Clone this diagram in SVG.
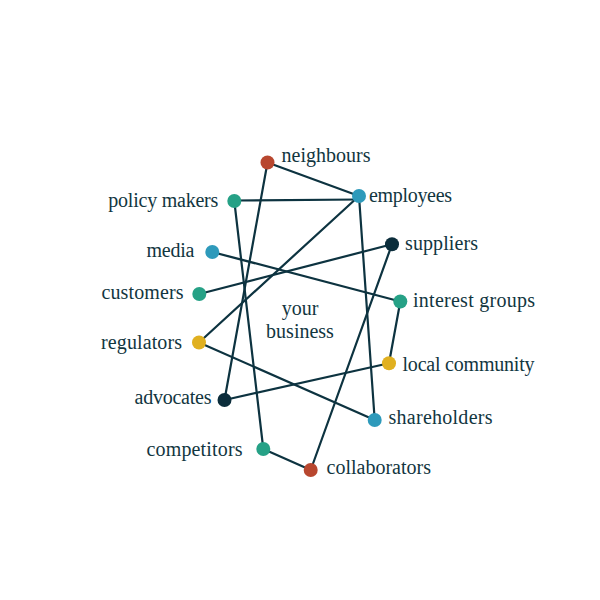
<svg xmlns="http://www.w3.org/2000/svg" width="600" height="600" viewBox="0 0 600 600">
<style>
.e{stroke:#0d3340;stroke-width:2.2;fill:none;stroke-linecap:round}
.n{stroke:none}
.red{fill:#b8472f}.teal{fill:#26a186}.blue{fill:#2e9abb}.yel{fill:#e0b020}.dark{fill:#0b2d3b}
text{font-family:"Liberation Serif","Times New Roman",serif;font-size:20px;fill:#12363f}
.r{text-anchor:end}.c{text-anchor:middle}
</style>
<rect width="600" height="600" fill="#ffffff"/>
<g id="connectors">
<line class="e" x1="267.5" y1="162.5" x2="359" y2="196"/>
<line class="e" x1="234.3" y1="200.5" x2="359" y2="199.5"/>
<line class="e" x1="359" y1="196" x2="199" y2="342.5"/>
<line class="e" x1="359" y1="196" x2="374.7" y2="420"/>
<line class="e" x1="267.5" y1="162.5" x2="224.5" y2="400"/>
<line class="e" x1="234.3" y1="201" x2="263.3" y2="449"/>
<line class="e" x1="212.3" y1="252" x2="400.3" y2="301.5"/>
<line class="e" x1="199.3" y1="294" x2="392" y2="244.3"/>
<line class="e" x1="392" y1="244.3" x2="310.7" y2="470"/>
<line class="e" x1="400.3" y1="301.5" x2="389" y2="363.3"/>
<line class="e" x1="389" y1="363.3" x2="224.5" y2="400"/>
<line class="e" x1="199" y1="342.5" x2="374.7" y2="420"/>
<line class="e" x1="263.3" y1="449" x2="310.7" y2="470"/>
</g>
<g id="center"><text class="c" x="300" y="315">your</text><text class="c" x="300" y="338">business</text></g>
<g id="neighbours"><circle class="n red" cx="267.5" cy="162.5" r="7"/><text x="281.5" y="162" textLength="89">neighbours</text></g>
<g id="employees"><circle class="n blue" cx="359" cy="196" r="7"/><text x="369" y="202" textLength="83">employees</text></g>
<g id="policy-makers"><circle class="n teal" cx="234.3" cy="201" r="7"/><text class="r" x="218.3" y="206.5" textLength="110">policy makers</text></g>
<g id="media"><circle class="n blue" cx="212.3" cy="252" r="7"/><text class="r" x="194.5" y="256.5" textLength="48">media</text></g>
<g id="suppliers"><circle class="n dark" cx="392" cy="244.3" r="7"/><text x="405" y="249.5" textLength="73">suppliers</text></g>
<g id="customers"><circle class="n teal" cx="199.3" cy="294" r="7"/><text class="r" x="183.5" y="298.5" textLength="82">customers</text></g>
<g id="interest-groups"><circle class="n teal" cx="400.3" cy="301.5" r="7"/><text x="413" y="307" textLength="122">interest groups</text></g>
<g id="regulators"><circle class="n yel" cx="199" cy="342.5" r="7"/><text class="r" x="182" y="349" textLength="81">regulators</text></g>
<g id="local-community"><circle class="n yel" cx="389" cy="363.3" r="7"/><text x="402.5" y="370.5" textLength="132">local community</text></g>
<g id="advocates"><circle class="n dark" cx="224.5" cy="400" r="7"/><text class="r" x="211.5" y="404" textLength="77">advocates</text></g>
<g id="shareholders"><circle class="n blue" cx="374.7" cy="420" r="7"/><text x="388.5" y="424" textLength="104">shareholders</text></g>
<g id="competitors"><circle class="n teal" cx="263.3" cy="449" r="7"/><text class="r" x="242.5" y="456" textLength="96">competitors</text></g>
<g id="collaborators"><circle class="n red" cx="310.7" cy="470" r="7"/><text x="326.5" y="474" textLength="104.5">collaborators</text></g>
</svg>
